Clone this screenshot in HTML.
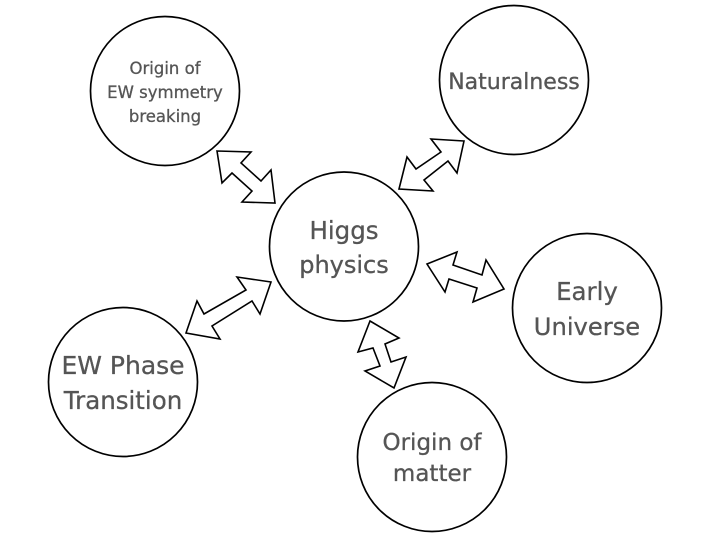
<!DOCTYPE html>
<html>
<head>
<meta charset="utf-8">
<style>
html,body{margin:0;padding:0;background:#fff;width:720px;height:539px;overflow:hidden}
svg{display:block}
text{font-family:"DejaVu Sans","Liberation Sans",sans-serif;fill:#555;stroke:#555;stroke-width:.3;text-anchor:middle}
circle{fill:#fff;stroke:#000;stroke-width:1.7}
polygon{fill:#fff;stroke:#000;stroke-width:1.6;stroke-linejoin:miter}
</style>
</head>
<body>
<svg width="720" height="539" viewBox="0 0 720 539" xmlns="http://www.w3.org/2000/svg">
<circle cx="165" cy="91" r="74.5"/>
<circle cx="514" cy="80" r="74.5"/>
<circle cx="344" cy="246.500" r="74.5"/>
<circle cx="587" cy="308" r="74.5"/>
<circle cx="123" cy="382" r="74.5"/>
<circle cx="432" cy="457" r="74.5"/>

<polygon points="217,151 251,152 241,163 261,181 271,170 275,203 242,202 252,191 232,173 222,183"/>
<polygon points="464,141 431,139 441,152 416,169 407,157 399,189 433,191 424,180 448,161 457,173"/>
<polygon points="271,282 237,277 246,290 204,314 197,301 186,333 220,339 212,326 252,301 260,314"/>
<polygon points="427,264 457,252 453,265 482,275 486,260 504,289 473,302 477,288 449,279 445,292"/>
<polygon points="370,321 399,338 385,344 391,362 406,357 394,388 365,371 380,366 373,348 358,352"/>

<text x="165" y="74" font-size="16.500">Origin of</text>
<text x="165" y="98" font-size="16.500">EW symmetry</text>
<text x="165" y="122" font-size="16.500">breaking</text>
<text x="514" y="89" font-size="22">Naturalness</text>
<text x="344" y="239" font-size="24.500">Higgs</text>
<text x="344" y="273" font-size="24">physics</text>
<text x="587" y="300" font-size="24.500">Early</text>
<text x="587" y="335" font-size="24.200">Universe</text>
<text x="123" y="374" font-size="25">EW Phase</text>
<text x="123" y="409" font-size="24.500">Transition</text>
<text x="432" y="450" font-size="23">Origin of</text>
<text x="432" y="481" font-size="23">matter</text>
</svg>
</body>
</html>
